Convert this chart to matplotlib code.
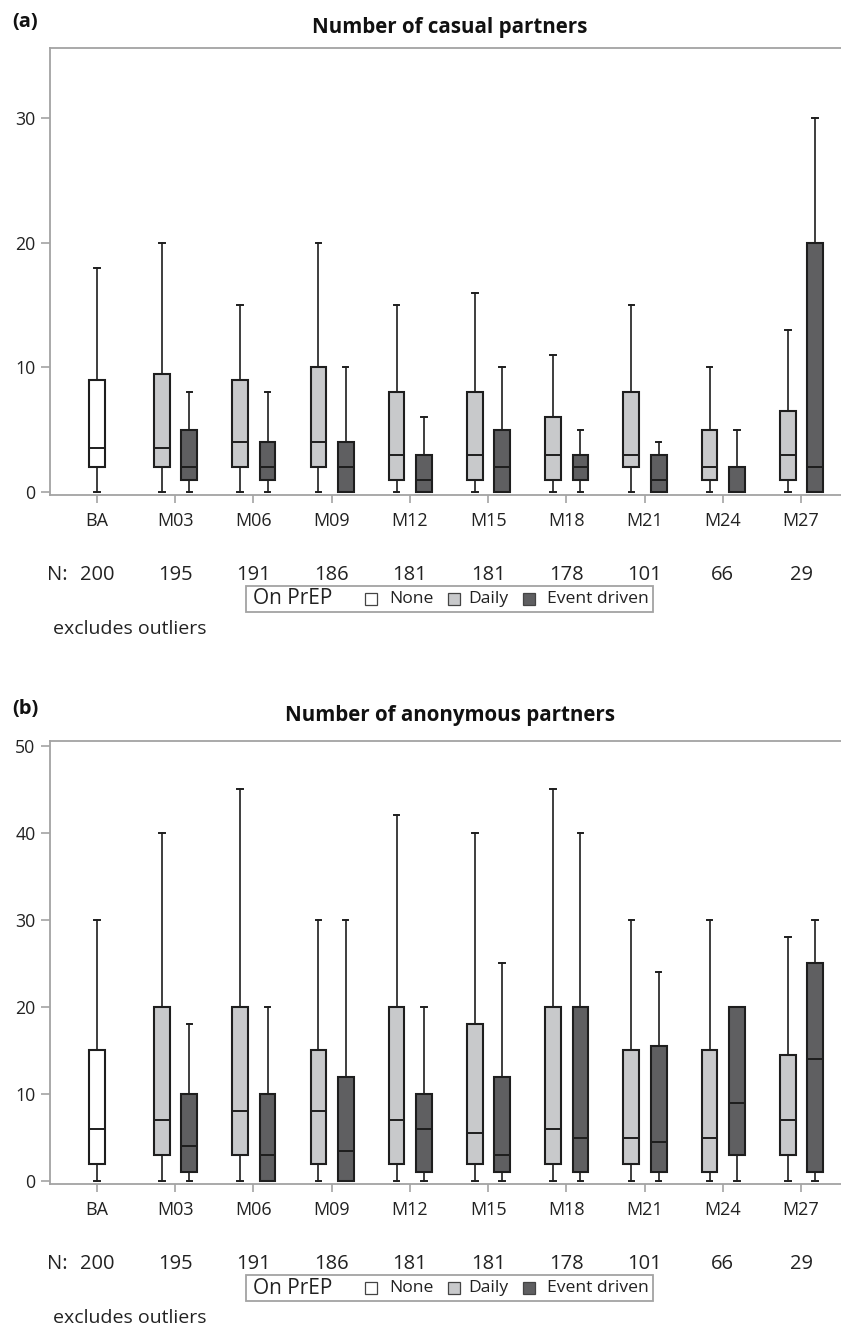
import matplotlib
matplotlib.use("Agg")
import matplotlib.pyplot as plt
from matplotlib.patches import Rectangle

plt.rcParams['font.family'] = ['Open Sans', 'DejaVu Sans']

# data: [whisker low, q1, median, q3, whisker high]
months = ["BA", "M03", "M06", "M09", "M12", "M15", "M18", "M21", "M24", "M27"]
n_counts = [200, 195, 191, 186, 181, 181, 178, 101, 66, 29]
groups = ["None", "Daily", "Event driven"]

casual_none = [0, 2, 3.5, 9, 18]
casual_daily = [
    [0, 2, 3.5, 9.5, 20],
    [0, 2, 4, 9, 15],
    [0, 2, 4, 10, 20],
    [0, 1, 3, 8, 15],
    [0, 1, 3, 8, 16],
    [0, 1, 3, 6, 11],
    [0, 2, 3, 8, 15],
    [0, 1, 2, 5, 10],
    [0, 1, 3, 6.5, 13],
]
casual_event = [
    [0, 1, 2, 5, 8],
    [0, 1, 2, 4, 8],
    [0, 0, 2, 4, 10],
    [0, 0, 1, 3, 6],
    [0, 0, 2, 5, 10],
    [0, 1, 2, 3, 5],
    [0, 0, 1, 3, 4],
    [0, 0, 0, 2, 5],
    [0, 0, 2, 20, 30],
]

anon_none = [0, 2, 6, 15, 30]
anon_daily = [
    [0, 3, 7, 20, 40],
    [0, 3, 8, 20, 45],
    [0, 2, 8, 15, 30],
    [0, 2, 7, 20, 42],
    [0, 2, 5.5, 18, 40],
    [0, 2, 6, 20, 45],
    [0, 2, 5, 15, 30],
    [0, 1, 5, 15, 30],
    [0, 3, 7, 14.5, 28],
]
anon_event = [
    [0, 1, 4, 10, 18],
    [0, 0, 3, 10, 20],
    [0, 0, 3.5, 12, 30],
    [0, 1, 6, 10, 20],
    [0, 1, 3, 12, 25],
    [0, 1, 5, 20, 40],
    [0, 1, 4.5, 15.5, 24],
    [0, 3, 9, 20, 20],
    [0, 1, 14, 25, 30],
]

W, H = 841, 1327
colors = {"None": "white", "Daily": "#c8c9cb", "Event driven": "#5f5f61"}
edge = "#1e1e1e"
frame = "#a3a3a3"
txt = "#222222"


def fx(x):
    return x / W


def fy(y):
    return 1 - y / H


def to_stats(rows):
    return [dict(whislo=r[0], q1=r[1], med=r[2], q3=r[3], whishi=r[4], fliers=[]) for r in rows]


def draw_boxes(ax, rows, positions, color):
    ax.bxp(to_stats(rows), positions=positions, widths=0.2, capwidths=0.07,
           patch_artist=True, showfliers=False, manage_ticks=False,
           boxprops=dict(facecolor=color, edgecolor=edge, linewidth=1.5),
           medianprops=dict(color=edge, linewidth=1.4),
           whiskerprops=dict(color=edge, linewidth=1.2),
           capprops=dict(color=edge, linewidth=1.4))


fig = plt.figure(figsize=(W / 100, H / 100), dpi=100)


def panel(top, bottom, letter, title, none, daily, event, ylim, yticks, letter_y, title_y):
    ax = fig.add_axes([fx(50), fy(bottom), 1 - fx(50), (bottom - top) / H])
    idx = list(range(1, len(months)))
    draw_boxes(ax, [none], [0], colors["None"])
    draw_boxes(ax, daily, [i - 0.17 for i in idx], colors["Daily"])
    draw_boxes(ax, event, [i + 0.18 for i in idx], colors["Event driven"])

    ax.set_xlim(-0.6, 9.51)
    ax.set_ylim(*ylim)
    ax.set_xticks(range(len(months)))
    ax.set_xticklabels(months, fontsize=13, color=txt)
    ax.set_yticks(yticks)
    ax.set_yticklabels([str(t) for t in yticks], fontsize=12.8, color=txt)
    for s in ["left", "top", "bottom"]:
        ax.spines[s].set_color(frame)
        ax.spines[s].set_linewidth(1.3)
    ax.spines["right"].set_visible(False)
    ax.tick_params(axis="y", length=6.5, width=1.2, color=frame, pad=4)
    ax.tick_params(axis="x", length=6, width=1.2, color=frame, pad=6)

    fig.text(fx(12), fy(letter_y), letter, fontsize=14.5, fontweight="bold",
             ha="left", va="center", color="#111111")
    fig.text(fx(450), fy(title_y), title, fontsize=14.8, fontweight="bold",
             ha="center", va="center", color="#111111")

    # N row
    fig.text(fx(47), fy(bottom + 80), "N:", fontsize=14.5, ha="left", va="center", color=txt)
    for i, n in enumerate(n_counts):
        ax.annotate(str(n), xy=(i, 0), xycoords=ax.get_xaxis_transform(),
                    xytext=(0, -80 * 0.72), textcoords="offset points",
                    ha="center", va="center", fontsize=14.5, color=txt)

    # legend
    fig.patches.append(Rectangle((fx(246), fy(bottom + 117)), (653 - 246) / W, 26 / H,
                                 transform=fig.transFigure, facecolor="white",
                                 edgecolor=frame, linewidth=1.3))
    ly = bottom + 104
    fig.text(fx(253), fy(ly), "On PrEP", fontsize=15, ha="left", va="center", color=txt)
    for g, sx, tx in zip(groups, [365, 448, 523], [389, 468, 547]):
        fig.patches.append(Rectangle((fx(sx), fy(ly + 6)), 12 / W, 12 / H,
                                     transform=fig.transFigure, facecolor=colors[g],
                                     edgecolor="#444444", linewidth=0.9))
        fig.text(fx(tx), fy(ly), g, fontsize=12.6, ha="left", va="center", color=txt)

    fig.text(fx(53), fy(bottom + 134), "excludes outliers", fontsize=14,
             ha="left", va="center", color=txt)
    return ax


panel(48, 495, "(a)", "Number of casual partners", casual_none, casual_daily, casual_event,
      (-0.24, 35.63), [0, 10, 20, 30], 22, 27)
panel(740.6, 1184, "(b)", "Number of anonymous partners", anon_none, anon_daily, anon_event,
      (-0.34, 50.6), [0, 10, 20, 30, 40, 50], 709, 716)

fig.savefig("out.png", dpi=100)
